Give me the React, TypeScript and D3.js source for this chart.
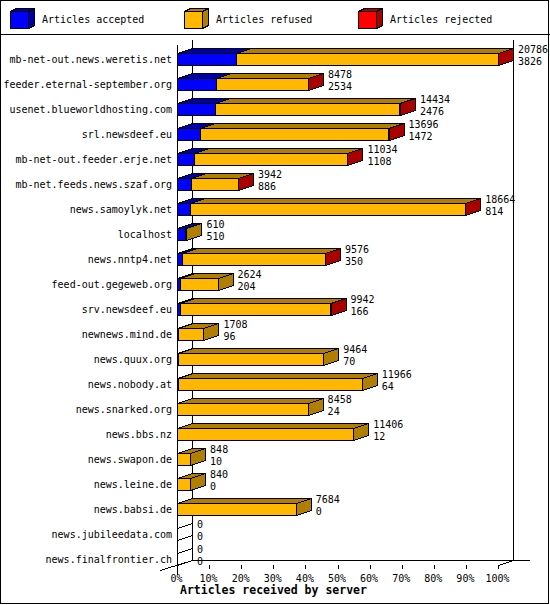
import React from 'react';
import * as d3 from 'd3';

// servers, top to bottom
const servers = [
  'mb-net-out.news.weretis.net',
  'feeder.eternal-september.org',
  'usenet.blueworldhosting.com',
  'srl.newsdeef.eu',
  'mb-net-out.feeder.erje.net',
  'mb-net.feeds.news.szaf.org',
  'news.samoylyk.net',
  'localhost',
  'news.nntp4.net',
  'feed-out.gegeweb.org',
  'srv.newsdeef.eu',
  'newnews.mind.de',
  'news.quux.org',
  'news.nobody.at',
  'news.snarked.org',
  'news.bbs.nz',
  'news.swapon.de',
  'news.leine.de',
  'news.babsi.de',
  'news.jubileedata.com',
  'news.finalfrontier.ch',
];
const offered = [20786, 8478, 14434, 13696, 11034, 3942, 18664, 610, 9576, 2624, 9942, 1708, 9464, 11966, 8458, 11406, 848, 840, 7684, 0, 0];
const accepted = [3826, 2534, 2476, 1472, 1108, 886, 814, 510, 350, 204, 166, 96, 70, 64, 24, 12, 10, 0, 0, 0, 0];
// rejected is not printed; estimated from the red slivers
const rejected = [24, 12, 70, 18, 16, 8, 22, 0, 6, 0, 4, 0, 0, 0, 0, 0, 0, 0, 0, 0, 0];

const seriesNames = ['Articles accepted', 'Articles refused', 'Articles rejected'];
const frontColors = ['#0000ff', '#ffb700', '#ff0000'];
const shadeColors = ['#0000aa', '#b07e00', '#aa0000'];
const tickValues = [0, 10, 20, 30, 40, 50, 60, 70, 80, 90, 100];

const W = 550;
const H = 605;
const DX = 15; // 3d depth
const DY = 5;
const BAR_H = 12;
const FONT = '"DejaVu Sans Mono", "Liberation Mono", monospace';

const px = (v: number) => Math.round(v) + 0.5;

const App: React.FC = () => {
  const maxTotal = d3.max(offered) || 1;
  const x = d3.scaleLinear().domain([0, 100]).range([177, 498]);
  const y = d3.scaleBand<string>().domain(servers).range([46.5, 571.5]);
  const pct = (v: number) => (v / maxTotal) * 100;

  const x0 = px(x(0));
  const floorBack = 560.5;
  const plotTop = 40;

  const box = (key: string, a: number, b: number, yc: number, k: number, outlineOnly = false) => {
    const xa = px(x(pct(a)));
    const xb = px(x(pct(b)));
    const t = px(yc - BAR_H / 2);
    const bt = px(yc + BAR_H / 2);
    const front = outlineOnly ? 'none' : frontColors[k];
    const shade = outlineOnly ? 'none' : shadeColors[k];
    return (
      <g key={key}>
        <rect x={xa} y={t} width={xb - xa} height={bt - t} fill={front} stroke="#000" />
        <polygon
          points={`${xa},${t} ${xa + DX},${t - DY} ${xb + DX},${t - DY} ${xb},${t}`}
          fill={shade}
          stroke="#000"
        />
        <polygon
          points={`${xb},${t} ${xb + DX},${t - DY} ${xb + DX},${bt - DY} ${xb},${bt}`}
          fill={shade}
          stroke="#000"
        />
      </g>
    );
  };

  return (
    <div style={{ position: 'absolute', left: 0, top: 0 }}>
      <svg width={W} height={H} style={{ display: 'block' }} shapeRendering="crispEdges">
        <rect x={0.5} y={0.5} width={W - 2} height={H - 2} fill="#fff" stroke="#000" />

        {/* legend */}
        <line x1={0} x2={W} y1={34.5} y2={34.5} stroke="#000" />
        {seriesNames.map((name, k) => {
          const lx = 10.5 + k * 174;
          const ly = 11.5;
          const s = 18;
          return (
            <g key={name}>
              <rect x={lx} y={ly} width={s} height={s - 1} fill={frontColors[k]} stroke="#000" />
              <polygon
                points={`${lx},${ly} ${lx + 6},${ly - 3} ${lx + s + 6},${ly - 3} ${lx + s},${ly}`}
                fill={shadeColors[k]}
                stroke="#000"
              />
              <polygon
                points={`${lx + s},${ly} ${lx + s + 6},${ly - 3} ${lx + s + 6},${ly + s - 4} ${lx + s},${ly + s - 1}`}
                fill={shadeColors[k]}
                stroke="#000"
              />
              <text x={lx + 31.5} y={23} fontFamily={FONT} fontSize={10} fill="#000">
                {name}
              </text>
            </g>
          );
        })}

        {/* axes frame */}
        <line x1={x0} x2={x0} y1={45} y2={575} stroke="#000" />
        <line x1={x0 + DX} x2={x0 + DX} y1={plotTop} y2={floorBack} stroke="#000" />
        <line x1={px(x(100)) + DX} x2={px(x(100)) + DX} y1={plotTop} y2={floorBack} stroke="#000" />
        <line x1={x0 + DX} x2={530} y1={floorBack} y2={floorBack} stroke="#000" />
        <line x1={160} y1={570.5} x2={x0 + DX} y2={floorBack} stroke="#000" />
        <line x1={px(x(100))} y1={565.5} x2={px(x(100)) + DX} y2={floorBack} stroke="#000" />
        {tickValues.map(t => (
          <g key={t}>
            <line x1={px(x(t))} x2={px(x(t))} y1={565} y2={569} stroke="#000" />
            <text
              x={x(t) - 0.5}
              y={582}
              textAnchor="middle"
              fontFamily={FONT}
              fontSize={10}
              fill="#000"
            >
              {d3.format('d')(t)}%
            </text>
          </g>
        ))}
        <text x={180} y={594} fontFamily={FONT} fontSize={11.5} fontWeight="bold" fill="#000">
          Articles received by server
        </text>

        {/* bars */}
        {servers.map((s, i) => {
          const yc = (y(s) || 0) + y.bandwidth() / 2;
          const vals = [accepted[i], offered[i] - accepted[i] - rejected[i], rejected[i]];
          let cum = 0;
          const segs = vals.map((v, k) => {
            const a = cum;
            cum += v;
            return { k, a, b: cum, v };
          });
          const lx = x(pct(offered[i])) + DX + 5;
          return (
            <g key={s}>
              <text
                x={172}
                y={yc + 4}
                textAnchor="end"
                fontFamily={FONT}
                fontSize={10}
                fill="#000"
              >
                {s}
              </text>
              {offered[i] === 0
                ? box(`${s}-0`, 0, 0, yc, 0, true)
                : segs.filter(d => d.v > 0).map(d => box(`${s}-${d.k}`, d.a, d.b, yc, d.k))}
              <text x={lx} y={yc - 6} fontFamily={FONT} fontSize={10} fill="#000">
                {offered[i]}
              </text>
              <text x={lx} y={yc + 6} fontFamily={FONT} fontSize={10} fill="#000">
                {accepted[i]}
              </text>
            </g>
          );
        })}
      </svg>
    </div>
  );
};

export default App;
